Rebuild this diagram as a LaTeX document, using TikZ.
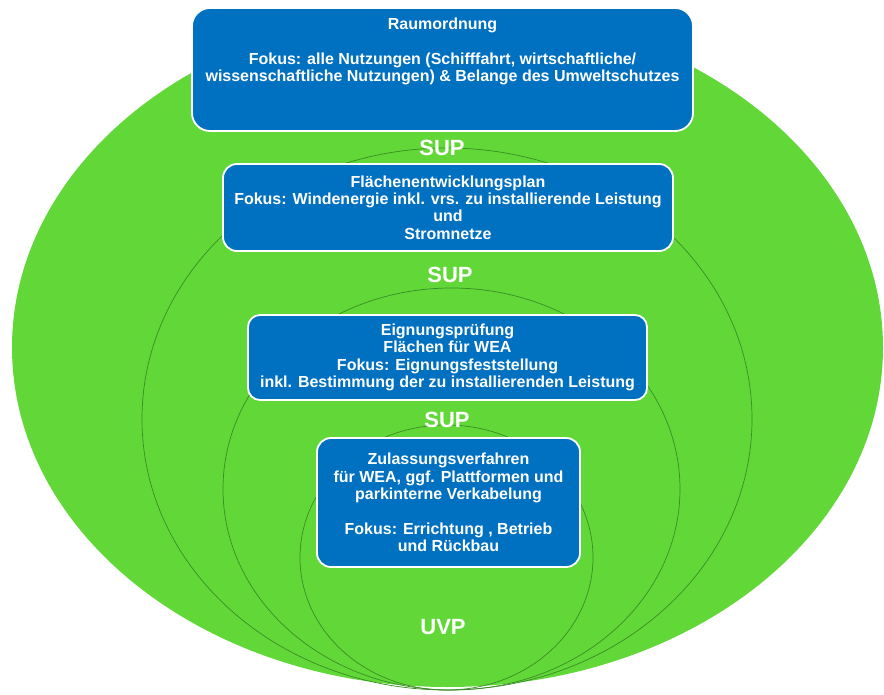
\documentclass[tikz,border=0pt]{standalone}
\usepackage{fontspec}
\setmainfont{Liberation Sans}
\definecolor{bgreen}{RGB}{98,216,56}
\definecolor{bblue}{RGB}{0,112,192}
\definecolor{ringline}{RGB}{58,140,38}
\begin{document}
\begin{tikzpicture}[x=1pt,y=-1pt,
  box/.style={fill=bblue, draw=white, line width=1.8pt, rounded corners=14pt, inner sep=0pt},
  boxtext/.style={text=white, font=\bfseries\fontsize{16}{17.3}\selectfont, align=center, inner sep=0pt},
  ring/.style={draw=ringline, line width=0.7pt},
  lvl/.style={text=white, font=\bfseries\fontsize{22}{24}\selectfont, inner sep=0pt}
]
\useasboundingbox (0,0) rectangle (884,695);
% outer green ellipse
\fill[bgreen] (447.5,347.5) ellipse [x radius=435.5pt, y radius=339.5pt];
% inner rings
\draw[ring] (447,419) ellipse [x radius=305pt, y radius=271pt];
\draw[ring] (451.5,489) ellipse [x radius=228.5pt, y radius=201pt];
\draw[ring] (446.5,557.5) ellipse [x radius=146.5pt, y radius=132.5pt];
% boxes
\node[box, rounded corners=18pt, minimum width=501pt, minimum height=123pt] (ro) at (442.5,69.5) {};
\node[boxtext] (rotext) at (442.5,51.5) {Raumordnung\\[17.3pt]Fokus: alle Nutzungen (Schifffahrt, wirtschaftliche/\\wissenschaftliche Nutzungen) \& Belange des Umweltschutzes};
\node[box, boxtext, minimum width=450pt, minimum height=87pt] (fep) at (448,207.5) {Flächenentwicklungsplan\\Fokus: Windenergie inkl. vrs. zu installierende Leistung\\und\\Stromnetze};
\node[box, boxtext, rounded corners=12pt, minimum width=399pt, minimum height=85pt] (eig) at (447.5,357.5) {Eignungsprüfung\\Flächen für WEA\\Fokus: Eignungsfeststellung\\inkl. Bestimmung der zu installierenden Leistung};
\node[box, boxtext, minimum width=263pt, minimum height=129pt] (zul) at (448.5,502.5) {Zulassungsverfahren\\für WEA, ggf. Plattformen und\\parkinterne Verkabelung\\[17.3pt]Fokus: Errichtung , Betrieb\\und Rückbau};
% level labels
\node[lvl] (sup1) at (442,148) {SUP};
\node[lvl] (sup2) at (450,275) {SUP};
\node[lvl] (sup3) at (447,420) {SUP};
\node[lvl] (uvp) at (443,627) {UVP};
\end{tikzpicture}
\end{document}
